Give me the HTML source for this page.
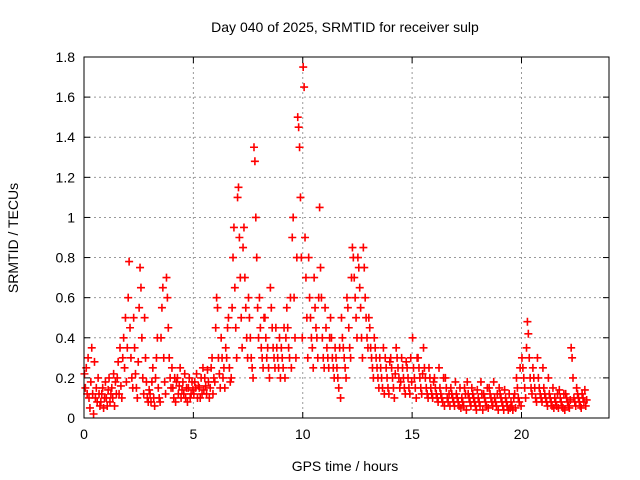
<!DOCTYPE html>
<html><head><meta charset="utf-8"><style>
body{margin:0;background:#fff;}
svg{display:block;font-family:"Liberation Sans",sans-serif;}
</style></head><body>
<svg id="chart" width="640" height="480">
<text x="345" y="32" text-anchor="middle" font-size="14">Day 040 of 2025, SRMTID for receiver sulp</text>
<text x="345" y="471" text-anchor="middle" font-size="14">GPS time / hours</text>
<text transform="translate(18,238) rotate(-90)" text-anchor="middle" font-size="14">SRMTID / TECUs</text>
<g id="grid"></g><g id="marks"></g>
<rect x="84" y="57" width="525" height="361" fill="none" stroke="#000" stroke-width="1"/>
</svg>
<script>
const xTicks=[0,5,10,15,20];
const yTicks=[0,0.2,0.4,0.6,0.8,1,1.2,1.4,1.6,1.8];
const yTickLabels=["0","0.2","0.4","0.6","0.8","1","1.2","1.4","1.6","1.8"];
const binStarts=[0,0.25,0.5,0.75,1,1.25,1.5,1.75,2,2.25,2.5,2.75,3,3.25,3.5,3.75,4,4.25,4.5,4.75,5,5.25,5.5,5.75,6,6.25,6.5,6.75,7,7.25,7.5,7.75,8,8.25,8.5,8.75,9,9.25,9.5,9.75,10,10.25,10.5,10.75,11,11.25,11.5,11.75,12,12.25,12.5,12.75,13,13.25,13.5,13.75,14,14.25,14.5,14.75,15,15.25,15.5,15.75,16,16.25,16.5,16.75,17,17.25,17.5,17.75,18,18.25,18.5,18.75,19,19.25,19.5,19.75,20,20.25,20.5,20.75,21,21.25,21.5,21.75,22,22.25,22.5,22.75];
const binValues=[
[.22,.15,.25,.12,.3,.1],[.05,.18,.35,.12,.02,.28],[.1,.15,.08,.2,.12,.06],[.08,.12,.15,.05,.1,.18],
[.1,.06,.14,.2,.08,.12],[.15,.1,.22,.06,.18,.12],[.2,.28,.12,.35,.16,.1],[.3,.4,.25,.5,.18,.35],
[.6,.78,.45,.3,.2,.15],[.5,.35,.22,.15,.1,.28],[.55,.75,.65,.4,.2,.12],[.5,.3,.18,.1,.08,.14],
[.12,.08,.18,.25,.1,.06],[.2,.3,.4,.15,.1,.08],[.4,.55,.65,.3,.18,.12],[.7,.6,.45,.3,.2,.15],
[.25,.15,.1,.2,.08,.18],[.2,.12,.16,.25,.1,.14],[.18,.12,.22,.1,.15,.08],[.15,.2,.1,.12,.18,.14],
[.12,.18,.15,.22,.1,.16],[.15,.1,.2,.12,.25,.14],[.2,.16,.12,.24,.18,.1],[.15,.25,.3,.12,.2,.18],
[.45,.6,.55,.3,.22,.15],[.4,.3,.2,.25,.15,.35],[.3,.45,.5,.25,.18,.2],[.55,.8,.95,.65,.45,.3],
[1.1,1.15,.9,.7,.5,.35],[.85,.95,.7,.55,.4,.3],[.6,.5,.4,.3,.25,.2],[1.35,1.28,1.0,.8,.55,.4],
[.6,.45,.35,.3,.25,.5],[.5,.4,.3,.35,.25,.2],[.65,.55,.45,.35,.3,.25],[.45,.35,.3,.25,.4,.2],
[.35,.3,.25,.45,.2,.4],[.55,.45,.35,.3,.6,.25],[.9,1.0,.6,.4,.3,.8],[1.5,1.45,1.35,1.1,.8,.4],
[1.75,1.65,.9,.7,.5,.3],[.8,.6,.5,.4,.35,.25],[.7,.55,.45,.4,.3,.6],[1.05,.75,.6,.4,.3,.25],
[.55,.45,.35,.3,.25,.4],[.5,.4,.3,.25,.2,.35],[.3,.25,.2,.15,.35,.1],[.5,.4,.35,.3,.25,.2],
[.6,.55,.45,.35,.3,.7],[.85,.8,.7,.6,.5,.4],[.8,.75,.65,.55,.4,.3],[.85,.75,.6,.5,.4,.35],
[.5,.45,.35,.3,.25,.2],[.4,.35,.3,.25,.2,.15],[.3,.25,.2,.15,.35,.12],[.3,.25,.2,.15,.12,.28],
[.3,.25,.2,.15,.1,.22],[.35,.3,.25,.2,.15,.18],[.3,.25,.2,.15,.12,.28],[.25,.2,.15,.12,.3,.18],
[.4,.25,.2,.15,.1,.3],[.3,.25,.2,.15,.12,.22],[.35,.25,.2,.15,.12,.1],[.25,.2,.15,.12,.1,.18],
[.2,.15,.12,.1,.08,.25],[.15,.12,.1,.08,.2,.06],[.2,.15,.1,.08,.12,.06],[.15,.12,.1,.08,.06,.18],
[.12,.1,.08,.06,.15,.05],[.1,.08,.06,.15,.12,.04],[.18,.12,.1,.08,.06,.15],[.12,.1,.08,.06,.04,.14],
[.1,.08,.06,.18,.12,.04],[.12,.1,.08,.06,.15,.05],[.15,.12,.1,.08,.06,.18],[.1,.08,.06,.12,.04,.15],
[.12,.1,.08,.06,.04,.14],[.1,.08,.06,.04,.12,.05],[.08,.06,.04,.1,.12,.05],[.2,.15,.1,.08,.25,.06],
[.3,.25,.2,.15,.1,.35],[.48,.42,.3,.2,.15,.12],[.25,.2,.15,.1,.08,.3],[.2,.15,.12,.1,.08,.25],
[.15,.12,.1,.08,.06,.2],[.12,.1,.08,.06,.15,.05],[.1,.08,.06,.12,.05,.14],[.1,.08,.06,.05,.12,.04],
[.12,.1,.08,.06,.05,.09],[.35,.3,.2,.1,.08,.06],[.15,.12,.1,.08,.06,.05],[.12,.1,.08,.14,.06,.09]
];
const binWidth=0.25;
const NS="http://www.w3.org/2000/svg";
const L=84,R=609,T=57,B=418,XMAX=24,YMAX=1.8;
const xs=v=>L+v/XMAX*(R-L);
const ys=v=>B-v/YMAX*(B-T);
const grid=document.getElementById('grid'),marks=document.getElementById('marks');
function mk(tag,attrs,parent){const e=document.createElementNS(NS,tag);for(const k in attrs)e.setAttribute(k,attrs[k]);parent.appendChild(e);return e;}
yTicks.forEach((v,i)=>{
  const y=ys(v);
  if(v>0&&v<YMAX){const g=mk('line',{x1:L,x2:R,y1:y,y2:y,stroke:'#999','stroke-dasharray':'2,3'},grid);
  
  }
  const t=mk('text',{x:L-9,y:y+5,'text-anchor':'end','font-size':'14'},grid);t.textContent=yTickLabels[i];
  
  
  mk('line',{x1:L,x2:L+6,y1:y,y2:y,stroke:'#000'},grid);mk('line',{x1:R,x2:R-6,y1:y,y2:y,stroke:'#000'},grid);
});
xTicks.forEach(v=>{
  const x=xs(v);
  if(v>0){const g=mk('line',{x1:x,x2:x,y1:T,y2:B,stroke:'#999','stroke-dasharray':'2,3'},grid);
  
  }
  const t=mk('text',{x:x,y:B+21,'text-anchor':'middle','font-size':'14'},grid);t.textContent=String(v);
  
  
  mk('line',{x1:x,x2:x,y1:B,y2:B-6,stroke:'#000'},grid);mk('line',{x1:x,x2:x,y1:T,y2:T+6,stroke:'#000'},grid);
});
binStarts.forEach((t0,i)=>{
  const vals=binValues[i];
  vals.forEach((v,j)=>{
    const x=xs(t0+binWidth*(j+0.5)/vals.length),y=ys(v);
    const p=mk('path',{d:`M${x-4},${y}H${x+4}M${x},${y-4}V${y+4}`,stroke:'#ff0000','stroke-width':'1.6',fill:'none'},marks);
    
    
  });
});
</script>
</body></html>
